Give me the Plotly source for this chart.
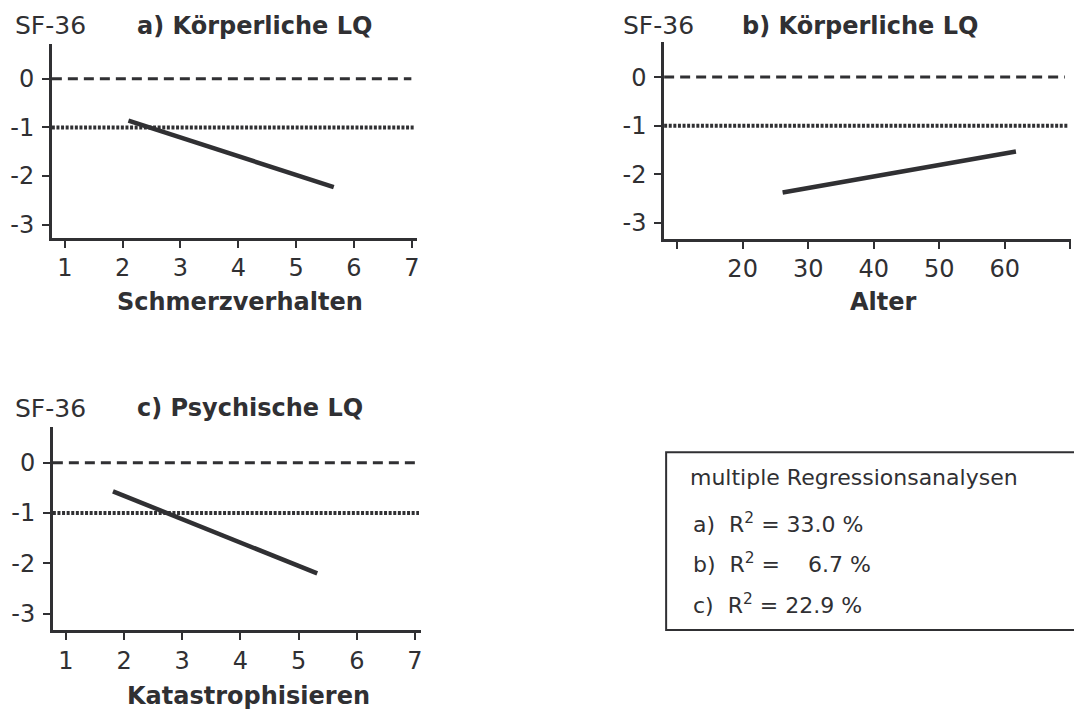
import plotly.graph_objects as go

# ---- data ----
a_x = [2.1, 5.65]
a_y = [-0.86, -2.23]
b_x = [26.1, 61.7]
b_y = [-2.37, -1.53]
c_x = [1.81, 5.32]
c_y = [-0.57, -2.2]

ref_zero = 0
ref_minus1 = -1

y_ticks = [0, -1, -2, -3]
x_ticks_scale = [1, 2, 3, 4, 5, 6, 7]
x_ticks_age = [20, 30, 40, 50, 60]

titles = ["a) Körperliche LQ", "b) Körperliche LQ", "c) Psychische LQ"]
y_label = "SF-36"
x_labels = ["Schmerzverhalten", "Alter", "Katastrophisieren"]
box_lines = [
    "multiple Regressionsanalysen",
    "a)\u00a0\u00a0R<sup>2</sup> = 33.0 %",
    "b)\u00a0\u00a0R<sup>2</sup> = \u2007\u00a06.7 %",
    "c)\u00a0\u00a0R<sup>2</sup> = 22.9 %",
]

W, H = 1074, 710
INK = "#303033"
FONT = "DejaVu Sans"

def px(x):
    return x / W

def py(y):
    return 1 - y / H

fig = go.Figure()

panels = [
    dict(xs=a_x, ys=a_y, xd=[px(52), px(418)], yd=[py(238), py(44)],
         xr=[0.776, 7.086], yr=[-3.27, 0.718], xt=x_ticks_scale, minor=None),
    dict(xs=b_x, ys=b_y, xd=[px(666), 1.0], yd=[py(239), py(42)],
         xr=[8.022, 70.1], yr=[-3.32, 0.723], xt=x_ticks_age, minor=10),
    dict(xs=c_x, ys=c_y, xd=[px(53), px(422)], yd=[py(631), py(428)],
         xr=[0.777, 7.10], yr=[-3.325, 0.70], xt=x_ticks_scale, minor=None),
]

for i, p in enumerate(panels):
    n = "" if i == 0 else str(i + 1)
    fig.add_trace(go.Scatter(x=p["xs"], y=p["ys"], mode="lines",
                             line=dict(color=INK, width=4.5),
                             xaxis="x" + n, yaxis="y" + n, showlegend=False,
                             hoverinfo="skip"))
    axcommon = dict(showline=True, linewidth=2.7, linecolor=INK, ticks="outside",
                    ticklen=7, tickwidth=2, tickcolor=INK, showgrid=False,
                    zeroline=False, fixedrange=True,
                    tickfont=dict(family=FONT, size=24, color=INK))
    xax = dict(domain=p["xd"], range=p["xr"], tickmode="array",
               tickvals=p["xt"], ticktext=[str(v) for v in p["xt"]],
               anchor="y" + n, ticklabelstandoff=0, **axcommon)
    if p["minor"]:
        xax["minor"] = dict(dtick=p["minor"], tick0=0, ticks="outside", ticklen=7,
                            tickwidth=2, tickcolor=INK, showgrid=False)
    fig.update_layout(**{
        "xaxis" + n: xax,
        "yaxis" + n: dict(domain=p["yd"], range=p["yr"], tickmode="array",
                          tickvals=y_ticks, ticktext=[str(v) for v in y_ticks],
                          anchor="x" + n, ticklabelstandoff=3, **axcommon),
    })
    xref = "x" + n + " domain"
    yref = "y" + n
    fig.add_shape(type="line", xref=xref, yref=yref, x0=0, x1=0.985,
                  y0=ref_zero, y1=ref_zero,
                  line=dict(color=INK, width=3, dash="10px,6px"), layer="below")
    fig.add_shape(type="line", xref=xref, yref=yref, x0=0, x1=0.995,
                  y0=ref_minus1, y1=ref_minus1,
                  line=dict(color=INK, width=4, dash="3px,1.6px"), layer="below")

# titles
title_pos = [(13, 135, 26), (623, 742, 26), (13, 135, 409)]
for (xs, xt, yc), t in zip(title_pos, titles):
    fig.add_annotation(x=px(xs), y=py(yc), xref="paper", yref="paper", text=y_label,
                       showarrow=False, xanchor="left", yanchor="middle",
                       font=dict(family=FONT, size=25, color=INK))
    fig.add_annotation(x=px(xt), y=py(yc), xref="paper", yref="paper",
                       text="<b>" + t + "</b>",
                       showarrow=False, xanchor="left", yanchor="middle",
                       font=dict(family=FONT, size=24, color=INK))

# x-axis titles
xl_pos = [(241, 302), (886, 302), (249, 697)]
for (xc, yc), t in zip(xl_pos, x_labels):
    fig.add_annotation(x=px(xc), y=py(yc), xref="paper", yref="paper",
                       text="<b>" + t + "</b>", showarrow=False,
                       xanchor="center", yanchor="middle",
                       font=dict(family=FONT, size=24, color=INK))

# info box
fig.add_shape(type="rect", xref="paper", yref="paper",
              x0=px(668), x1=px(1080), y0=py(631), y1=py(453),
              line=dict(color=INK, width=2), fillcolor="rgba(0,0,0,0)")
box_y = [478, 524, 564, 605]
box_x = [690, 693, 693, 693]
for xs, yc, t in zip(box_x, box_y, box_lines):
    fig.add_annotation(x=px(xs), y=py(yc), xref="paper", yref="paper", text=t,
                       showarrow=False, xanchor="left", yanchor="middle",
                       font=dict(family=FONT, size=22, color=INK))

fig.update_layout(width=W, height=H, margin=dict(l=0, r=0, t=0, b=0),
                  paper_bgcolor="white", plot_bgcolor="white", showlegend=False)

fig.write_html("out.html", config={"displayModeBar": False},
               post_script="document.body.style.margin='0';document.body.style.overflow='hidden';")
